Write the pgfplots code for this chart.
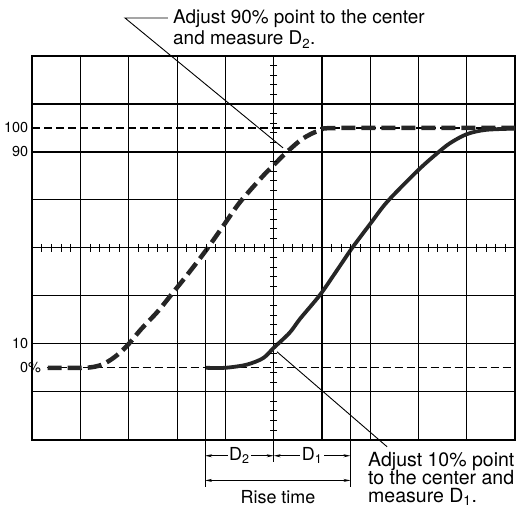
\documentclass[border=0pt]{standalone}
\usepackage{fontspec}
\setmainfont{TeX Gyre Heros}
\usepackage{pgfplots}
\pgfplotsset{compat=1.18}
\usetikzlibrary{arrows.meta}

\begin{document}
\begin{tikzpicture}
\begin{axis}[
  width=483bp, height=384bp, scale only axis,
  xmin=-5, xmax=5, ymin=-30, ymax=130,
  clip=false,
  xtick={-4,-3,-2,-1,0,1,2,3,4}, xticklabels={},
  ytick={-10,10,30,50,70,90,110}, yticklabels={},
  extra y ticks={0,10,90,100},
  extra y tick labels={0\rlap{\%},10,90,100},
  extra y tick style={grid=none, major tick length=0pt},
  major tick length=0pt,
  grid=major,
  major grid style={black, line width=1.2bp},
  axis line style={black, line width=1.8bp},
  yticklabel style={font=\fontsize{14.5}{16}\selectfont, inner sep=0pt, xshift=-4bp},
  /pgf/number format/assume math mode=true,
]

% corners of the picture
\coordinate (bbA) at (axis cs:-5.669,153.33);
\coordinate (bbB) at (axis cs:5.103,-60.42);

% reference levels 0% and 100%
\addplot[black, line width=1.2bp, dash pattern=on 8bp off 4bp] coordinates {(-5,100)(5,100)};
\addplot[black, line width=1.2bp, dash pattern=on 8bp off 4bp] coordinates {(-4.7,0)(5,0)};

% graticule ticks on the centre lines
\addplot[only marks, mark=-, mark size=3.5bp, mark options={line width=1bp, black}] coordinates {
(0,-30)(0,-26)(0,-22)(0,-18)(0,-14)(0,-10)(0,-6)(0,-2)(0,2)(0,6)(0,10)(0,14)(0,18)(0,22)(0,26)(0,30)(0,34)(0,38)(0,42)(0,46)(0,50)(0,54)(0,58)(0,62)(0,66)(0,70)(0,74)(0,78)(0,82)(0,86)(0,90)(0,94)(0,98)(0,102)(0,106)(0,110)(0,114)(0,118)(0,122)(0,126)(0,130)};
\addplot[only marks, mark=|, mark size=4bp, mark options={line width=1bp, black}] coordinates {
(-5,50)(-4.8,50)(-4.6,50)(-4.4,50)(-4.2,50)(-4,50)(-3.8,50)(-3.6,50)(-3.4,50)(-3.2,50)(-3,50)(-2.8,50)(-2.6,50)(-2.4,50)(-2.2,50)(-2,50)(-1.8,50)(-1.6,50)(-1.4,50)(-1.2,50)(-1,50)(-0.8,50)(-0.6,50)(-0.4,50)(-0.2,50)(0,50)(0.2,50)(0.4,50)(0.6,50)(0.8,50)(1,50)(1.2,50)(1.4,50)(1.6,50)(1.8,50)(2,50)(2.2,50)(2.4,50)(2.6,50)(2.8,50)(3,50)(3.2,50)(3.4,50)(3.6,50)(3.8,50)(4,50)(4.2,50)(4.4,50)(4.6,50)(4.8,50)(5,50)};

% dashed trace (90% point at centre)
\addplot[black!85, line width=4.5bp, dash pattern=on 14bp off 6bp, smooth, tension=0.5] coordinates {
(-4.68,0)(-3.9,0)(-3.6,1)(-3.4,3)(-3.2,6)(-3.0,10)(-2.75,16)(-2.4,23.5)(-2.1,31)(-1.8,38.5)(-1.4,49)(-1.05,59)(-0.7,69)(-0.22,80)(0,84.5)(0.25,89.5)(0.6,95.5)(0.96,99)(1.4,100)(5,100)};

% solid trace (10% point at centre)
\addplot[black!85, line width=3.8bp, smooth, tension=0.5] coordinates {
(-1.42,0)(-1,0)(-0.56,1.3)(-0.22,4)(0,8.3)(0.33,14.6)(0.55,20.5)(0.96,30.4)(1.3,40.3)(1.62,49.8)(2.0,60)(2.36,69.4)(3.0,82.5)(3.38,89.3)(3.65,93.6)(4.0,97.4)(4.4,99.2)(5,99.7)};

% annotation: 90% point
\draw[line width=0.9bp] (axis cs:-2.189,145.83) -- (axis cs:-3.080,145.83) -- (axis cs:0.194,91.67);
\node[anchor=base west, inner sep=0pt, font=\fontsize{19}{21}\selectfont] at (axis cs:-2.085,143.33) {Adjust 90\% point to the center};
\node[anchor=base west, inner sep=0pt, font=\fontsize{19}{21}\selectfont] at (axis cs:-2.085,134.58) {and measure D\textsubscript{2}.};

% annotation: 10% point
\draw[line width=0.9bp] (axis cs:0.069,6.67) -- (axis cs:2.349,-32.92);
\node[anchor=base west, inner sep=0pt, font=\fontsize{19.6}{21}\selectfont] at (axis cs:1.955,-41.1) {Adjust 10\% point};
\node[anchor=base west, inner sep=0pt, font=\fontsize{19.6}{21}\selectfont] at (axis cs:1.955,-48.75) {to the center and};
\node[anchor=base west, inner sep=0pt, font=\fontsize{19.6}{21}\selectfont] at (axis cs:1.955,-56.25) {measure D\textsubscript{1}.};

% extension lines
\draw[line width=1bp] (axis cs:-1.422,45) -- (axis cs:-1.422,-49.6);
\draw[line width=1bp] (axis cs:1.592,49.2) -- (axis cs:1.592,-49.6);
\draw[line width=1bp] (axis cs:0,-30) -- (axis cs:0,-39.2);

% dimension arrows
\draw[{Stealth[length=7bp,width=3bp]}-{Stealth[length=7bp,width=3bp]}, line width=0.9bp] (axis cs:-1.422,-36.67) -- node[fill=white, inner sep=1.5bp, font=\fontsize{18}{20}\selectfont] {D\textsubscript{2}} (axis cs:0,-36.67);
\draw[{Stealth[length=7bp,width=3bp]}-{Stealth[length=7bp,width=3bp]}, line width=0.9bp] (axis cs:0,-36.67) -- node[fill=white, inner sep=1.5bp, font=\fontsize{18}{20}\selectfont] {D\textsubscript{1}} (axis cs:1.592,-36.67);
\draw[{Stealth[length=7bp,width=3bp]}-{Stealth[length=7bp,width=3bp]}, line width=0.9bp] (axis cs:-1.422,-46.96) -- (axis cs:1.592,-46.96);
\node[anchor=base, inner sep=0pt, font=\fontsize{18}{19}\selectfont] at (axis cs:0.09,-56.67) {Rise time};

\end{axis}
\pgfresetboundingbox
\path (bbA) rectangle (bbB);
\end{tikzpicture}
\end{document}
